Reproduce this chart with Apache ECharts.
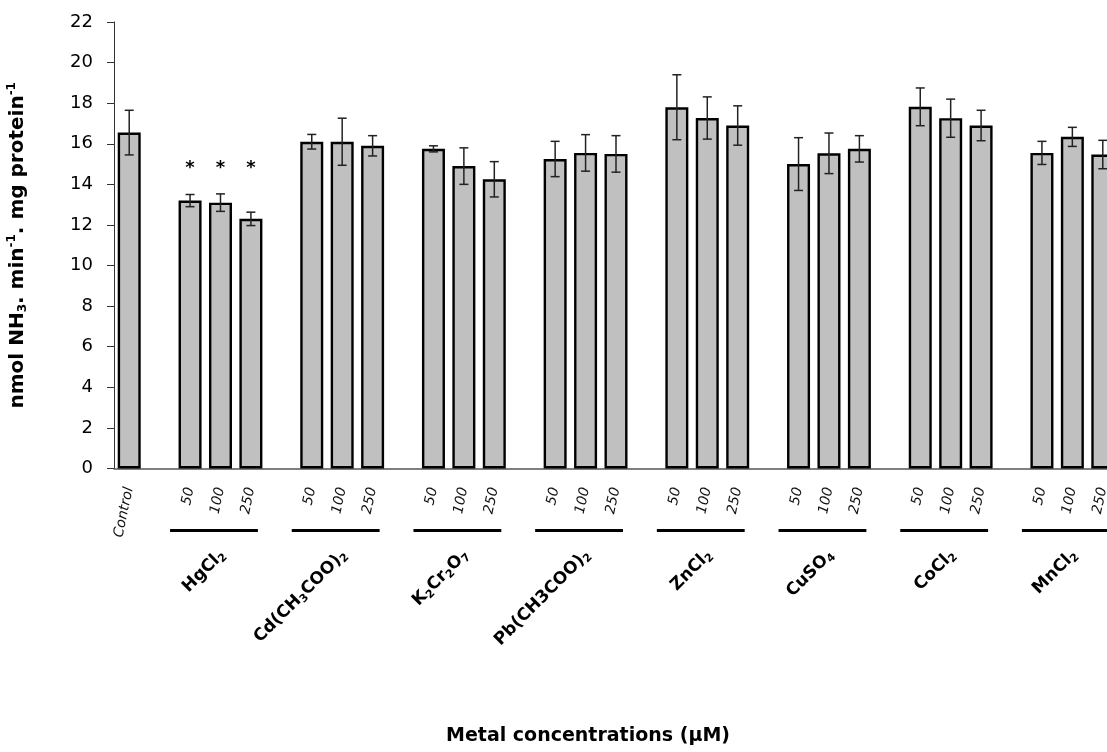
<!DOCTYPE html>
<html>
<head>
<meta charset="utf-8">
<script src="https://cdn.jsdelivr.net/npm/echarts@6/dist/echarts.min.js"></script>
<style>
  html, body { margin: 0; padding: 0; background: #fff; }
  #chart { width: 1107px; height: 752px; }
</style>
</head>
<body>
<div id="chart"></div>
<script>
// x categories: control, then a blank spacer before every metal group
const categories = [
  "Control", "",
  "50", "100", "250", "",
  "50", "100", "250", "",
  "50", "100", "250", "",
  "50", "100", "250", "",
  "50", "100", "250", "",
  "50", "100", "250", "",
  "50", "100", "250", "",
  "50", "100", "250",
];

// enzyme activity (nmol NH3 / min / mg protein), null = spacer
const means = [
  16.55, null,
  13.2, 13.1, 12.3, null,
  16.1, 16.1, 15.9, null,
  15.75, 14.9, 14.25, null,
  15.25, 15.55, 15.5, null,
  17.8, 17.27, 16.9, null,
  15.0, 15.53, 15.75, null,
  17.82, 17.26, 16.9, null,
  15.55, 16.34, 15.47,
];
const errors = [
  1.1, null,
  0.3, 0.43, 0.33, null,
  0.36, 1.16, 0.5, null,
  0.15, 0.9, 0.87, null,
  0.87, 0.9, 0.9, null,
  1.6, 1.04, 0.97, null,
  1.3, 1.0, 0.65, null,
  0.93, 0.94, 0.75, null,
  0.57, 0.47, 0.7,
];

// significant differences (*), index into categories
const starIdx = [2, 3, 4];
const starLevel = 14.8;

// metal salts, with the first category index of each group
const groupNames = [
  "HgCl{s|2}",
  "Cd(CH{s|3}COO){s|2}",
  "K{s|2}Cr{s|2}O{s|7}",
  "Pb(CH3COO){s|2}",
  "ZnCl{s|2}",
  "CuSO{s|4}",
  "CoCl{s|2}",
  "MnCl{s|2}",
];
const groupFirstIndex = [2, 6, 10, 14, 18, 22, 26, 30];

const FONT = "DejaVu Sans";

const chart = echarts.init(document.getElementById("chart"));

let errData = [];
means.forEach((m, i) => {
  if (m == null) return;
  errData.push([i, m - errors[i], m + errors[i]]);
});

const option = {
  backgroundColor: "#fff",
  animation: false,
  grid: {
    left: 114,
    top: 22,
    width: 1004,
    height: 446.5,
    containLabel: false,
    outerBoundsMode: "none",
  },
  xAxis: {
    type: "category",
    data: categories,
    axisLine: { lineStyle: { color: "#555", width: 1.5 } },
    axisTick: { length: 5, lineStyle: { color: "#555" } },
    axisLabel: {
      interval: 0,
      rotate: 78,
      margin: 19,
      fontSize: 14,
      fontStyle: "italic",
      fontFamily: FONT,
      color: "#111",
    },
  },
  yAxis: {
    type: "value",
    min: 0,
    max: 22,
    interval: 2,
    name: "nmol NH{sb|3}. min{sp|-1}. mg protein{sp|-1}",
    nameLocation: "middle",
    nameRotate: 90,
    nameGap: 84,
    nameTextStyle: {
      fontFamily: FONT,
      fontWeight: "bold",
      fontSize: 20,
      color: "#000",
      rich: {
        sb: { fontFamily: FONT, fontWeight: "bold", fontSize: 12, padding: [10, 0, 0, 0] },
        sp: { fontFamily: FONT, fontWeight: "bold", fontSize: 12, padding: [0, 0, 12, 0] },
      },
    },
    axisLine: { show: true, lineStyle: { color: "#333" } },
    axisTick: { show: true, length: 7, lineStyle: { color: "#333" } },
    splitLine: { show: false },
    axisLabel: { fontFamily: FONT, fontSize: 18, color: "#000", margin: 21 },
  },
  series: [
    {
      type: "bar",
      data: means,
      barWidth: 23,
      itemStyle: { color: "#c0c0c0", borderColor: "#000", borderWidth: 2.4 },
    },
    {
      // error bars + stars
      type: "custom",
      data: errData,
      z: 5,
      renderItem: (params, api) => {
        const i = api.value(0);
        const lo = api.coord([i, api.value(1)]);
        const hi = api.coord([i, api.value(2)]);
        const x = lo[0];
        const cap = 4.5;
        const st = { stroke: "#222", lineWidth: 1.5 };
        const kids = [
          { type: "line", shape: { x1: x, y1: lo[1], x2: x, y2: hi[1] }, style: st },
          { type: "line", shape: { x1: x - cap, y1: lo[1], x2: x + cap, y2: lo[1] }, style: st },
          { type: "line", shape: { x1: x - cap, y1: hi[1], x2: x + cap, y2: hi[1] }, style: st },
        ];
        if (starIdx.includes(i)) {
          const p = api.coord([i, starLevel]);
          kids.push({
            type: "text",
            x: p[0],
            y: p[1],
            style: {
              text: "*",
              fill: "#000",
              font: `bold 18px "${FONT}"`,
              align: "center",
              verticalAlign: "middle",
            },
          });
        }
        return { type: "group", children: kids };
      },
    },
    {
      // group underline + salt name
      type: "custom",
      data: groupFirstIndex.map((g) => [g, 0]),
      clip: false,
      silent: true,
      renderItem: (params, api) => {
        const i0 = api.value(0);
        const a = api.coord([i0, 0]);
        const b = api.coord([i0 + 1, 0]);
        const c = api.coord([i0 + 2, 0]);
        const y = a[1];
        return {
          type: "group",
          children: [
            {
              type: "line",
              shape: { x1: a[0] - 20, y1: y + 62, x2: c[0] + 7, y2: y + 62 },
              style: { stroke: "#000", lineWidth: 3 },
            },
            {
              type: "text",
              x: b[0] + 2,
              y: y + 84,
              rotation: Math.PI / 4,
              style: {
                text: groupNames[params.dataIndex],
                fill: "#000",
                font: `bold 17px "${FONT}"`,
                align: "right",
                verticalAlign: "middle",
                rich: {
                  s: { font: `bold 11px "${FONT}"`, fill: "#000", padding: [9, 0, 0, 0] },
                },
              },
            },
          ],
        };
      },
    },
  ],
  graphic: [
    {
      type: "text",
      left: 446,
      top: 727,
      style: {
        text: "Metal concentrations (µM)",
        fill: "#000",
        font: `bold 19px "${FONT}"`,
      },
    },
  ],
};

chart.setOption(option);
</script>
</body>
</html>
